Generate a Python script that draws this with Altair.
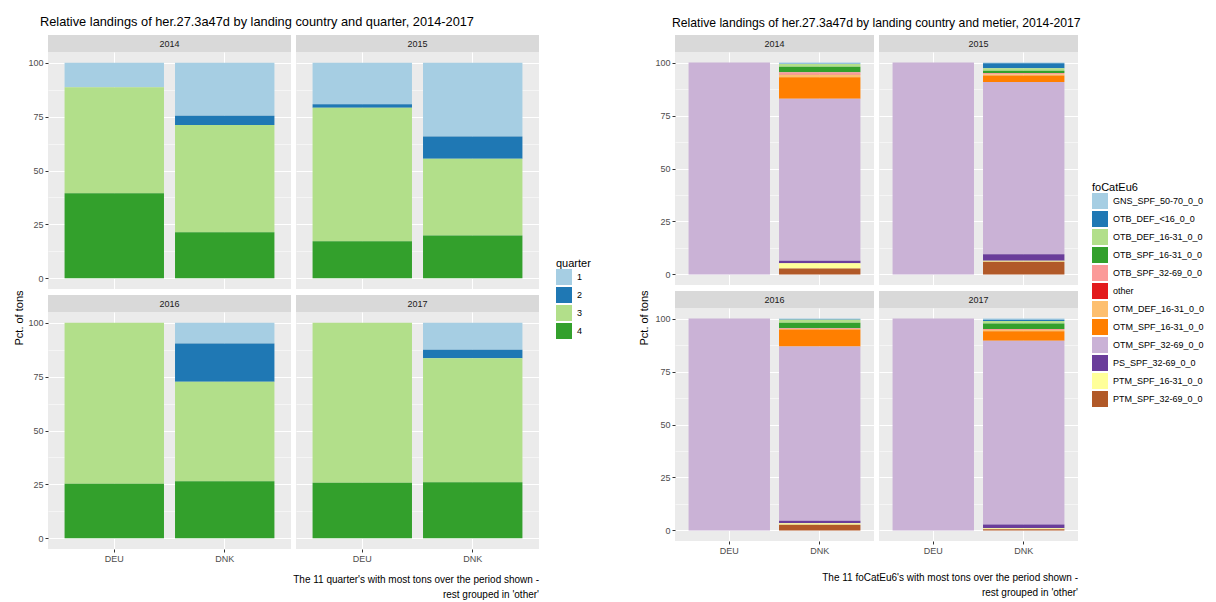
import altair as alt
import pandas as pd

FONT = "Liberation Sans"

years = ["2014", "2015", "2016", "2017"]
countries = ["DEU", "DNK"]

# ---- left chart: share of tons by quarter (order: Q1, Q2, Q3, Q4)
quarters = ["1", "2", "3", "4"]
quarter_colors = ["#A6CEE3", "#1F78B4", "#B2DF8A", "#33A02C"]
q_DEU_2014 = [11.4, 0.0, 49.2, 39.4]
q_DNK_2014 = [24.6, 4.3, 49.8, 21.3]
q_DEU_2015 = [19.3, 1.6, 61.9, 17.2]
q_DNK_2015 = [34.2, 10.3, 35.7, 19.8]
q_DEU_2016 = [0.0, 0.0, 74.7, 25.3]
q_DNK_2016 = [9.6, 17.8, 46.2, 26.4]
q_DEU_2017 = [0.0, 0.0, 74.3, 25.7]
q_DNK_2017 = [12.5, 4.0, 57.5, 26.0]

# ---- right chart: share of tons by metier (foCatEu6)
metiers = ["GNS_SPF_50-70_0_0", "OTB_DEF_<16_0_0", "OTB_DEF_16-31_0_0",
           "OTB_SPF_16-31_0_0", "OTB_SPF_32-69_0_0", "other",
           "OTM_DEF_16-31_0_0", "OTM_SPF_16-31_0_0", "OTM_SPF_32-69_0_0",
           "PS_SPF_32-69_0_0", "PTM_SPF_16-31_0_0", "PTM_SPF_32-69_0_0"]
metier_colors = ["#A6CEE3", "#1F78B4", "#B2DF8A", "#33A02C", "#FB9A99", "#E31A1C",
                 "#FDBF6F", "#FF7F00", "#CAB2D6", "#6A3D9A", "#FFFF99", "#B15928"]
m_DEU_2014 = [0, 0, 0, 0, 0, 0, 0, 0, 100.0, 0, 0, 0]
m_DNK_2014 = [0.5, 0.2, 1.3, 2.6, 1.0, 0.1, 1.2, 10.2, 76.5, 1.1, 2.5, 2.8]
m_DEU_2015 = [0, 0, 0, 0, 0, 0, 0, 0, 100.0, 0, 0, 0]
m_DNK_2015 = [0.3, 2.4, 1.1, 1.1, 0.6, 0.0, 0.6, 3.1, 81.3, 3.0, 0.5, 6.0]
m_DEU_2016 = [0, 0, 0, 0, 0, 0, 0, 0, 100.0, 0, 0, 0]
m_DNK_2016 = [0.3, 0.2, 1.5, 2.6, 0.3, 0.0, 0.3, 8.0, 82.2, 1.2, 0.7, 2.7]
m_DEU_2017 = [0, 0, 0, 0, 0, 0, 0, 0, 100.0, 0, 0, 0]
m_DNK_2017 = [0.6, 0.5, 1.2, 2.6, 0.5, 0.0, 0.6, 4.5, 86.7, 1.8, 0.4, 0.6]

quarter_data = {
    ("2014", "DEU"): q_DEU_2014, ("2014", "DNK"): q_DNK_2014,
    ("2015", "DEU"): q_DEU_2015, ("2015", "DNK"): q_DNK_2015,
    ("2016", "DEU"): q_DEU_2016, ("2016", "DNK"): q_DNK_2016,
    ("2017", "DEU"): q_DEU_2017, ("2017", "DNK"): q_DNK_2017,
}
metier_data = {
    ("2014", "DEU"): m_DEU_2014, ("2014", "DNK"): m_DNK_2014,
    ("2015", "DEU"): m_DEU_2015, ("2015", "DNK"): m_DNK_2015,
    ("2016", "DEU"): m_DEU_2016, ("2016", "DNK"): m_DNK_2016,
    ("2017", "DEU"): m_DEU_2017, ("2017", "DNK"): m_DNK_2017,
}


def to_long(data, cats):
    rows = []
    for (yr, ctry), vals in data.items():
        for i, v in enumerate(vals):
            rows.append({"year": yr, "country": ctry, "cat": cats[i], "idx": i, "pct": v})
    return pd.DataFrame(rows)


df_q = to_long(quarter_data, quarters)
df_m = to_long(metier_data, metiers)

STRIP = 17
MAJOR = "datum.value % 25 === 0"
NOVIEW = alt.ViewBackground(fill="transparent", stroke="transparent", strokeWidth=0)


def panel(df, cats, colors, ltitle, year, w, h, show_y, show_x, lx, ly):
    d = df[df["year"] == year]
    yaxis = alt.Axis(
        title=None, values=[0, 12.5, 25, 37.5, 50, 62.5, 75, 87.5, 100],
        labels=show_y, ticks=show_y, domain=False, grid=True, gridColor="white",
        gridWidth={"condition": {"test": MAJOR, "value": 1.1}, "value": 0.5},
        tickOpacity={"condition": {"test": MAJOR, "value": 1}, "value": 0},
        labelExpr=MAJOR + " ? datum.label : ''", labelOverlap=False,
        labelFont=FONT, labelFontSize=9, labelColor="#4D4D4D",
        tickColor="#333333", tickSize=3, tickWidth=1, labelPadding=2, minExtent=0)
    xaxis = alt.Axis(
        title=None, labels=show_x, ticks=show_x, domain=False, grid=True,
        gridColor="white", gridWidth=1.1, bandPosition=0.5, labelAngle=0,
        labelFont=FONT, labelFontSize=9, labelColor="#4D4D4D",
        tickColor="#333333", tickSize=3, tickWidth=1, labelPadding=2, minExtent=0)
    bars = alt.Chart(d).mark_bar().encode(
        x=alt.X("country:N", scale=alt.Scale(domain=countries, paddingInner=0.1, paddingOuter=0.15), axis=xaxis),
        y=alt.Y("pct:Q", stack="zero", scale=alt.Scale(domain=[-5, 105], nice=False, zero=False), axis=yaxis),
        color=alt.Color("cat:N", title=ltitle, scale=alt.Scale(domain=cats, range=colors),
                        legend=alt.Legend(orient="none", legendX=lx, legendY=ly,
                                          titleFont=FONT, titleFontSize=11, titleFontWeight="normal",
                                          titleColor="black", labelFont=FONT, labelFontSize=9,
                                          labelColor="black", symbolType="square", symbolSize=256,
                                          symbolStrokeWidth=0, symbolOpacity=1, rowPadding=2,
                                          titlePadding=0, labelOffset=5)),
        order=alt.Order("idx:Q", sort="descending"),
    )
    sd = pd.DataFrame({"year": [year]})
    strip_bg = alt.Chart(sd).mark_rect(color="#D9D9D9").encode(
        x=alt.value(0), x2=alt.value(w), y=alt.value(-STRIP), y2=alt.value(0))
    strip_txt = alt.Chart(sd).mark_text(font=FONT, fontSize=9, color="#1A1A1A", baseline="middle").encode(
        x=alt.value(w / 2), y=alt.value(-STRIP / 2), text="year:N")
    return alt.layer(strip_bg, strip_txt, bars).properties(width=w, height=h)


def side(df, cats, colors, ltitle, w, h, rowgap, title, tsize, tdx, caption, capgap,
         ytw, ytx, yty, yth, capw, lx, ly):
    row1 = alt.hconcat(panel(df, cats, colors, ltitle, "2014", w, h, True, False, lx, ly),
                       panel(df, cats, colors, ltitle, "2015", w, h, False, False, lx, ly), spacing=5)
    row2 = alt.hconcat(panel(df, cats, colors, ltitle, "2016", w, h, True, True, lx, ly),
                       panel(df, cats, colors, ltitle, "2017", w, h, False, True, lx, ly), spacing=5)
    grid = alt.vconcat(row1, row2, spacing=rowgap)
    ytitle = alt.Chart(pd.DataFrame({"t": ["Pct. of tons"]})).mark_text(
        angle=270, font=FONT, fontSize=11, color="black", baseline="middle", align="center").encode(
        x=alt.value(ytx), y=alt.value(yty), text="t:N").properties(width=ytw, height=yth, view=NOVIEW)
    cap = alt.Chart(pd.DataFrame({"t": [caption]})).mark_text(
        font=FONT, fontSize=10, color="black", align="right", baseline="top",
        lineBreak="\n", lineHeight=15).encode(
        x=alt.value(capw), y=alt.value(0), text="t:N").properties(width=capw, height=30, view=NOVIEW)
    return alt.vconcat(alt.hconcat(ytitle, grid, spacing=0), cap, spacing=capgap).properties(
        title=alt.TitleParams(text=title, anchor="start", dx=tdx, font=FONT, fontSize=tsize,
                              fontWeight="normal", color="black", offset=6))


left = side(df_q, quarters, quarter_colors, "quarter", 243, 237, 6,
            "Relative landings of her.27.3a47d by landing country and quarter, 2014-2017", 12.8, 32,
            "The 11 quarter's with most tons over the period shown -\nrest grouped in 'other'", 9,
            19, 12, 266, 514, 531, 548, 206)
right = side(df_m, metiers, metier_colors, "foCatEu6", 199, 233, 6,
             "Relative landings of her.27.3a47d by landing country and metier, 2014-2017", 12.2, 35,
             "The 11 foCatEu6's with most tons over the period shown -\nrest grouped in 'other'", 11,
             17, 8, 266, 510, 441, 455, 130)

chart = alt.hconcat(left, right, spacing=46).resolve_scale(color="independent").properties(
    padding={"left": 0, "top": 8, "right": 0, "bottom": 0}
).configure(background="white").configure_view(fill="#EBEBEB", stroke="transparent", strokeWidth=0)

chart.save("out.html", embed_options={"renderer": "svg", "actions": False})
